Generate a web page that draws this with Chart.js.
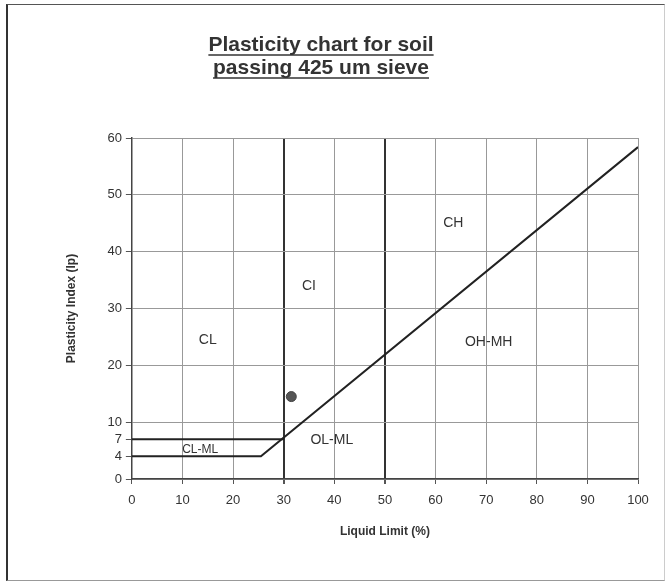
<!DOCTYPE html>
<html>
<head>
<meta charset="utf-8">
<script src="https://cdn.jsdelivr.net/npm/chart.js@4"></script>
<style>
body { margin: 0; background: #fff; }
#frame { position: absolute; left: 6px; top: 4px; width: 656px; height: 575px;
  border-top: 1px solid #555; border-left: 2px solid #333; border-bottom: 1px solid #999; border-right: 1px solid #ccc; }
#wrap { position: absolute; left: 0; top: 0; width: 668px; height: 584px; }
</style>
</head>
<body>
<div id="frame"></div>
<div id="wrap"><canvas id="chart"></canvas></div>
<script>
const titleLines = ['Plasticity chart for soil', 'passing 425 um sieve'];
const yTicks = [0, 4, 7, 10, 20, 30, 40, 50, 60];
const clmlTop = [{x: 0, y: 7}, {x: 30, y: 7}];
const aLine = [{x: 0, y: 4}, {x: 25.5, y: 4}, {x: 100, y: 58.4}];
const sample = [{x: 31.5, y: 14.5}];
const zoneNames = ['CH', 'CI', 'CL', 'OH-MH', 'OL-ML', 'CL-ML'];
const zoneLL = [63.5, 35, 15, 70.5, 39.5, 13.5];
const zonePI = [45, 34, 24.5, 24, 6.8, 5.2];

const FONT = '"Liberation Sans", Arial, sans-serif';

const textPlugin = {
    id: 'texts',
    afterDraw(chart) {
        const ctx = chart.ctx;
        const xs = chart.scales.x, ys = chart.scales.y;
        ctx.save();
        ctx.fillStyle = '#333';
        ctx.textAlign = 'center';
        ctx.textBaseline = 'middle';
        zoneNames.forEach((name, i) => {
            ctx.font = (name === 'CL-ML' ? '12px ' : '14px ') + FONT;
            ctx.fillText(name, xs.getPixelForValue(zoneLL[i]), ys.getPixelForValue(zonePI[i]));
        });
        // title, underlined
        ctx.font = 'bold 21px ' + FONT;
        ctx.strokeStyle = '#333';
        ctx.lineWidth = 1.5;
        const cx = 321;
        titleLines.forEach((t, i) => {
            const y = 45 + i * 23;
            ctx.fillText(t, cx, y);
            const w = ctx.measureText(t).width;
            ctx.beginPath();
            ctx.moveTo(cx - w / 2, y + 10);
            ctx.lineTo(cx + w / 2, y + 10);
            ctx.stroke();
        });
        ctx.restore();
    }
};

new Chart(document.getElementById('chart'), {
    type: 'scatter',
    data: {
        datasets: [{
            data: clmlTop,
            showLine: true,
            borderColor: '#222',
            borderWidth: 2,
            pointRadius: 0
        }, {
            data: aLine,
            showLine: true,
            borderColor: '#222',
            borderWidth: 2,
            pointRadius: 0
        }, {
            data: sample,
            backgroundColor: '#555',
            borderColor: '#444',
            pointRadius: 5
        }]
    },
    options: {
        responsive: true,
        maintainAspectRatio: false,
        animation: false,
        layout: { padding: { left: 64, right: 30, top: 138, bottom: 41 } },
        plugins: { legend: { display: false }, tooltip: { enabled: false } },
        scales: {
            x: {
                min: 0, max: 100,
                ticks: { stepSize: 10, color: '#333', padding: 9, font: { size: 13, family: FONT } },
                grid: {
                    color: c => (c.tick && (c.tick.value === 30 || c.tick.value === 50)) ? '#333' : '#999',
                    lineWidth: c => (c.tick && (c.tick.value === 30 || c.tick.value === 50)) ? 2 : 1,
                    tickColor: '#555',
                    tickLength: 5
                },
                border: { color: '#444', width: 1.5 },
                title: { display: true, text: 'Liquid Limit (%)', color: '#333', padding: { top: 7 }, font: { size: 12, weight: 'bold', family: FONT } }
            },
            y: {
                min: 0, max: 60,
                afterBuildTicks: scale => { scale.ticks = yTicks.map(v => ({ value: v })); },
                ticks: { color: '#333', padding: 4, font: { size: 13, family: FONT } },
                grid: {
                    color: c => (c.tick && (c.tick.value === 4 || c.tick.value === 7)) ? 'rgba(0,0,0,0)' : '#999',
                    tickColor: '#555',
                    tickLength: 6
                },
                border: { color: '#444', width: 1.5 },
                title: { display: true, text: 'Plasticity Index (Ip)', color: '#333', padding: { top: 0, bottom: 25 }, font: { size: 12, weight: 'bold', family: FONT } }
            }
        }
    },
    plugins: [textPlugin]
});
</script>
</body>
</html>
